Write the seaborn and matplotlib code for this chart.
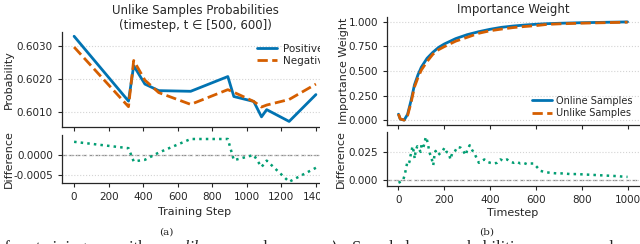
import matplotlib
matplotlib.use("Agg")
import matplotlib.pyplot as plt
import numpy as np
import pandas as pd
import seaborn as sns
from matplotlib.patches import Rectangle
from matplotlib.ticker import FormatStrFormatter

# ---------------- Panel (a): unlike samples probabilities ----------------
train_steps = [0, 315, 345, 410, 490, 675, 890, 925, 1040, 1085, 1115, 1245, 1400]
prob_positive = [0.60330, 0.60132, 0.60240, 0.60184, 0.60164, 0.60162, 0.60207,
                 0.60146, 0.60131, 0.60084, 0.60106, 0.60070, 0.60152]
prob_negative = [0.60297, 0.60115, 0.60256, 0.60196, 0.60158, 0.60122, 0.60167,
                 0.60159, 0.60131, 0.60114, 0.60120, 0.60137, 0.60184]
a_xticks = [0, 200, 400, 600, 800, 1000, 1200, 1400]
a_top_yticks = [0.6010, 0.6020, 0.6030]
a_bot_yticks = [-0.0005, 0.0000]

# ---------------- Panel (b): importance weight ----------------
timesteps = [0, 8, 25, 40, 55, 70, 85, 100, 125, 150, 175, 200, 250, 300, 350,
             400, 450, 500, 550, 600, 650, 700, 800, 900, 1000]
weight_online = [0.06, 0.01, 0.0, 0.06, 0.20, 0.36, 0.46, 0.54, 0.63, 0.69, 0.74,
                 0.775, 0.83, 0.87, 0.90, 0.925, 0.945, 0.958, 0.968, 0.976,
                 0.982, 0.986, 0.992, 0.996, 1.0]
weight_unlike = [0.062, 0.011, 0.0, 0.048, 0.178, 0.338, 0.432, 0.51, 0.597, 0.67,
                 0.717, 0.748, 0.804, 0.843, 0.884, 0.91, 0.927, 0.942, 0.953,
                 0.962, 0.975, 0.980, 0.987, 0.992, 0.997]
diff_timesteps = [0, 10, 20, 27, 33, 38, 43, 48, 53, 57, 61, 66, 71, 75, 82, 90, 97,
                  101, 109, 114, 119, 123, 129, 133, 137, 143, 152, 158, 162, 172,
                  181, 191, 201, 210, 220, 227, 235, 245, 257, 271, 283, 293, 300,
                  311, 322, 332, 340, 351, 365, 375, 387, 401, 416, 430, 445, 459,
                  474, 488, 503, 517, 532, 546, 561, 575, 590, 604, 619, 636, 662,
                  691, 720, 749, 778, 807, 836, 865, 894, 923, 952, 988, 1000]
weight_diff = [-0.0024, -0.0015, -0.0004, 0.0044, 0.0100, 0.0153, 0.0141, 0.0162,
               0.0220, 0.0250, 0.0300, 0.0260, 0.0191, 0.0259, 0.0300, 0.0271,
               0.0250, 0.0318, 0.0294, 0.0330, 0.0383, 0.0368, 0.0318, 0.0271,
               0.0236, 0.0206, 0.0132, 0.0236, 0.0259, 0.0221, 0.0236, 0.0250,
               0.0288, 0.0250, 0.0236, 0.0183, 0.0241, 0.0250, 0.0294, 0.0288,
               0.0259, 0.0221, 0.0265, 0.0309, 0.0265, 0.0236, 0.0200, 0.0153,
               0.0170, 0.0183, 0.0162, 0.0153, 0.0147, 0.0153, 0.0183, 0.0170,
               0.0183, 0.0162, 0.0153, 0.0162, 0.0147, 0.0153, 0.0141, 0.0147,
               0.0147, 0.0117, 0.0082, 0.0073, 0.0064, 0.0059, 0.0059, 0.0053,
               0.0053, 0.0050, 0.0047, 0.0044, 0.0041, 0.0038, 0.0035, 0.0029,
               0.0028]
b_xticks = [0, 200, 400, 600, 800, 1000]
b_top_yticks = [0.0, 0.25, 0.5, 0.75, 1.0]
b_bot_yticks = [0.0, 0.025]

BLUE = "#0173B2"
ORANGE = "#D55E00"
GREEN = "#029E73"
GRID = "#d4d4d4"

sns.set_theme(style="ticks", rc={
    "xtick.labelsize": 7.5, "ytick.labelsize": 7.5,
    "axes.labelsize": 8, "axes.titlesize": 8.5,
    "legend.fontsize": 7.5,
    "xtick.major.size": 3, "ytick.major.size": 3,
    "xtick.major.width": 0.8, "ytick.major.width": 0.8,
    "axes.linewidth": 0.9,
})
plt.rcParams["font.family"] = ["DejaVu Sans"]

W, H = 640, 244
fig = plt.figure(figsize=(W / 100, H / 100), dpi=100)


def px_axes(x0, y0, x1, y1):
    return fig.add_axes([x0 / W, 1 - y1 / H, (x1 - x0) / W, (y1 - y0) / H])


ax_a1 = px_axes(62, 32, 328, 127)
ax_a2 = px_axes(62, 135, 328, 183)
ax_b1 = px_axes(387, 17, 639, 125)
ax_b2 = px_axes(387, 132, 639, 186)

df_a = pd.DataFrame({"step": train_steps, "pos": prob_positive, "neg": prob_negative})
df_a["diff"] = df_a["pos"] - df_a["neg"]

sns.lineplot(data=df_a, x="step", y="pos", ax=ax_a1, color=BLUE, lw=2.0,
             label="Positive")
sns.lineplot(data=df_a, x="step", y="neg", ax=ax_a1, color=ORANGE, lw=2.0,
             linestyle="--", label="Negative")
ax_a1.set_ylim(0.60053, 0.60343)
ax_a1.set_yticks(a_top_yticks)
ax_a1.yaxis.set_major_formatter(FormatStrFormatter("%.4f"))
ax_a1.set_title("Unlike Samples Probabilities\n(timestep, t \u2208 [500, 600])",
                pad=2, linespacing=1.15)
ax_a1.set_ylabel("Probability")
ax_a1.set_xlabel("")
ax_a1.legend(loc="upper left", bbox_to_anchor=(0.70, 0.965), frameon=False,
             labelspacing=0.2, handlelength=2.0, borderpad=0.3, handletextpad=0.5)

sns.lineplot(data=df_a, x="step", y="diff", ax=ax_a2, color=GREEN, lw=1.8,
             linestyle=":")
ax_a2.axhline(0, color="#8c8c8c", ls="--", lw=0.9, zorder=0)
ax_a2.set_ylim(-0.0007, 0.0005)
ax_a2.set_yticks(a_bot_yticks)
ax_a2.yaxis.set_major_formatter(FormatStrFormatter("%.4f"))
ax_a2.set_ylabel("Difference")
ax_a2.set_xlabel("Training Step")

for ax in (ax_a1, ax_a2):
    ax.set_xlim(-70, 1470)
    ax.set_xticks(a_xticks)
    ax.grid(axis="y", linestyle=":", color=GRID, lw=0.8)
    sns.despine(ax=ax)
ax_a1.tick_params(labelbottom=False)

df_b = pd.DataFrame({"t": timesteps, "online": weight_online, "unlike": weight_unlike})
df_bd = pd.DataFrame({"t": diff_timesteps, "diff": weight_diff})

sns.lineplot(data=df_b, x="t", y="online", ax=ax_b1, color=BLUE, lw=2.0,
             label="Online Samples")
sns.lineplot(data=df_b, x="t", y="unlike", ax=ax_b1, color=ORANGE, lw=2.0,
             linestyle="--", label="Unlike Samples")
ax_b1.set_ylim(-0.05, 1.05)
ax_b1.set_yticks(b_top_yticks)
ax_b1.yaxis.set_major_formatter(FormatStrFormatter("%.3f"))
ax_b1.set_title("Importance Weight", pad=3)
ax_b1.set_ylabel("Importance Weight")
ax_b1.set_xlabel("")
ax_b1.legend(loc="upper left", bbox_to_anchor=(0.545, 0.345), frameon=False,
             labelspacing=0.25, handlelength=2.0, borderpad=0.3, handletextpad=0.5,
             fontsize=7)

sns.lineplot(data=df_bd, x="t", y="diff", ax=ax_b2, color=GREEN, lw=1.8,
             linestyle=":")
ax_b2.axhline(0, color="#8c8c8c", ls="--", lw=0.9, zorder=0)
ax_b2.set_ylim(-0.0053, 0.0427)
ax_b2.set_yticks(b_bot_yticks)
ax_b2.yaxis.set_major_formatter(FormatStrFormatter("%.3f"))
ax_b2.set_ylabel("Difference")
ax_b2.set_xlabel("Timestep")

for ax in (ax_b1, ax_b2):
    ax.set_xlim(-50, 1050)
    ax.set_xticks(b_xticks)
    ax.grid(axis="y", linestyle=":", color=GRID, lw=0.8)
    sns.despine(ax=ax)
ax_b1.tick_params(labelbottom=False)

# label positions
ax_a1.yaxis.set_label_coords(-0.18, 0.5)
ax_a2.yaxis.set_label_coords(-0.18, 0.5)
ax_b1.yaxis.set_label_coords(-0.151, 0.5)
ax_b2.yaxis.set_label_coords(-0.163, 0.5)
ax_a2.xaxis.set_label_coords(0.5, -0.49)
ax_b2.xaxis.set_label_coords(0.5, -0.414)

# crop of the left panel (as in the source figure)
fig.add_artist(Rectangle((320 / W, 0), 13 / W, 1, transform=fig.transFigure,
                         facecolor="white", edgecolor="none", zorder=5))

# sub-figure captions
fig.text(166 / W, 1 - 232 / H, "(a)", ha="center", va="center",
         family="DejaVu Serif", fontsize=7.5)
fig.text(487 / W, 1 - 232 / H, "(b)", ha="center", va="center",
         family="DejaVu Serif", fontsize=7.5)

# cut-off body text of the paper below the figure
words = [("of", -4, "normal"), ("training", 36, "normal"), ("with", 118, "normal"),
         ("unlike", 168, "italic"), ("samples.", 228, "normal"), ("(c)", 318, "normal"),
         ("Sampled", 352, "normal"), ("probabilities", 446, "normal"), ("dur", 604, "normal")]
for w, xp, st in words:
    fig.text(xp / W, 1 - 251.5 / H, w, ha="left", va="baseline",
             family="Liberation Serif", fontsize=12, style=st)

fig.savefig("out.png", dpi=100)
